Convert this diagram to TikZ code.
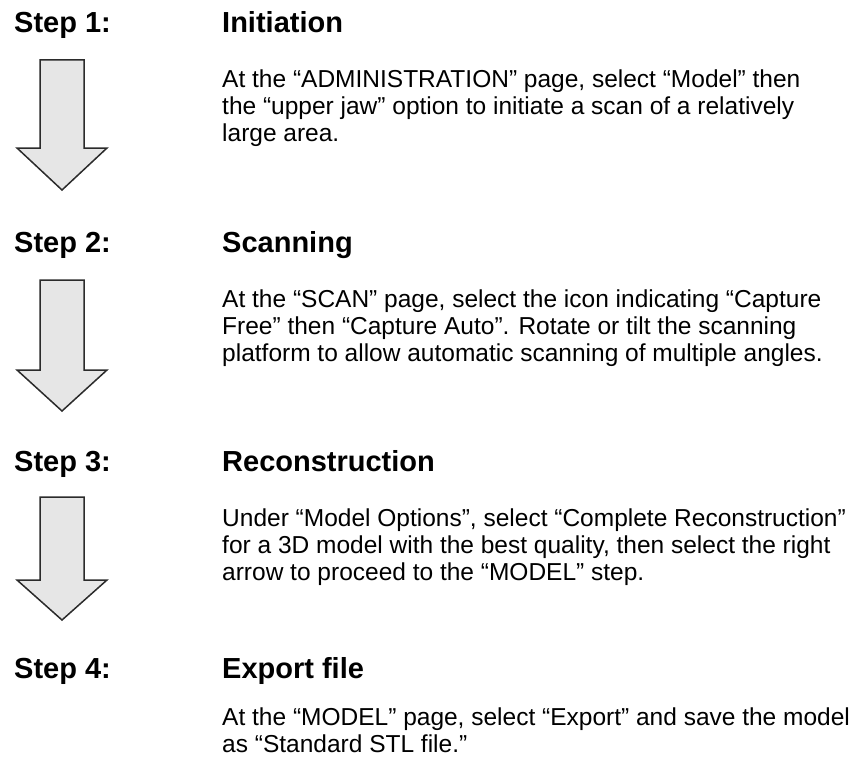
\documentclass[tikz,border=0pt]{standalone}
\usepackage{fontspec}
\setmainfont{Liberation Sans}
\definecolor{arrowfill}{HTML}{E6E6E6}
\definecolor{arrowline}{HTML}{2B2B2B}
\tikzset{
	steplabel/.style={anchor=base west, inner sep=0pt, font=\fontsize{29}{34}\selectfont\bfseries},
	steptitle/.style={steplabel},
	stepbody/.style={anchor=base west, inner sep=0pt, align=left, font=\fontsize{24.5}{27}\selectfont},
	downarrow/.style={draw=arrowline, fill=arrowfill, line width=1.5pt, line join=miter}
}
\begin{document}
\begin{tikzpicture}[x=1pt,y=-1pt]
	\useasboundingbox (0,0) rectangle (851,757);
	
	\node[steplabel] (step1) at (14,33) {Step 1:};
	\node[steplabel] (step2) at (14,252) {Step 2:};
	\node[steplabel] (step3) at (14,471) {Step 3:};
	\node[steplabel] (step4) at (14,678) {Step 4:};
	
	\node[steptitle] (title1) at (222,33) {Initiation};
	\node[steptitle] (title2) at (222,252) {Scanning};
	\node[steptitle] (title3) at (222,471) {Reconstruction};
	\node[steptitle] (title4) at (222,678) {Export file};
	
	% base of a body node = baseline of its last line
	\node[stepbody] (text1) at (222,142) {At the “ADMINISTRATION” page, select “Model” then\\the “upper jaw” option to initiate a scan of a relatively\\large area.};
	\node[stepbody] (text2) at (222,361) {At the “SCAN” page, select the icon indicating “Capture\\Free” then “Capture Auto”. Rotate or tilt the scanning\\platform to allow automatic scanning of multiple angles.};
	\node[stepbody] (text3) at (222,580) {Under “Model Options”, select “Complete Reconstruction”\\for a 3D model with the best quality, then select the right\\arrow to proceed to the “MODEL” step.};
	\node[stepbody] (text4) at (222,752) {At the “MODEL” page, select “Export” and save the model\\as “Standard STL file.”};
	
	\foreach \ytop/\yneck/\ytip in {60/148/190, 280/370/411, 497/580/620}
	{
	\draw[downarrow] (40,\ytop) -- (84,\ytop) -- (84,\yneck) -- (107,\yneck) -- (62,\ytip) -- (17,\yneck) -- (40,\yneck) -- cycle;
	}
\end{tikzpicture}
\end{document}
